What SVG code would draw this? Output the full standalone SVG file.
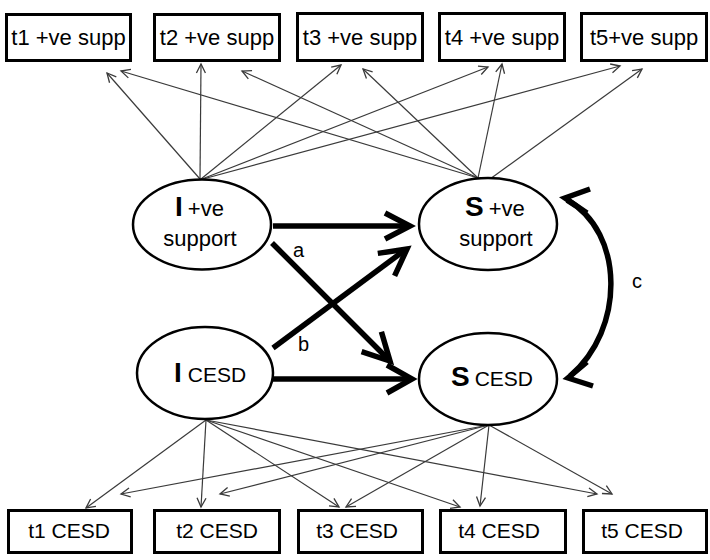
<svg xmlns="http://www.w3.org/2000/svg" width="710" height="560" viewBox="0 0 710 560">
<style>
.box{fill:#fff;stroke:#000;stroke-width:3}
.ell{fill:#fff;stroke:#000;stroke-width:2.5}
.bt{font-family:"Liberation Sans",Arial,sans-serif;font-size:22px;fill:#000;text-anchor:middle}
.bb{font-family:"Liberation Sans",Arial,sans-serif;font-size:21px;fill:#000;text-anchor:middle}
.big{font-family:"Liberation Sans",Arial,sans-serif;font-size:28px;font-weight:bold;fill:#000}
.sm{font-family:"Liberation Sans",Arial,sans-serif;font-size:22px;fill:#000}
.cs{font-family:"Liberation Sans",Arial,sans-serif;font-size:21px;fill:#000}
.lab{font-family:"Liberation Sans",Arial,sans-serif;font-size:20px;fill:#000}
.thin{stroke:#3a3a3a;stroke-width:1.2;fill:none;marker-end:url(#ah)}
.thick{stroke:#000;stroke-width:5.5;fill:none;stroke-linejoin:miter}
</style>
<defs>
<marker id="ah" markerUnits="userSpaceOnUse" markerWidth="14" markerHeight="12" viewBox="-11 -6 13 12" refX="0" refY="0" orient="auto">
<path d="M-9,-4.5 L0,0 L-9,4.5" fill="none" stroke="#3a3a3a" stroke-width="1.3"/>
</marker>
</defs>
<rect width="710" height="560" fill="#fff"/>
<g id="connectors">
<path class="thin" d="M200,179 L107,73"/>
<path class="thin" d="M200,179 L201,64"/>
<path class="thin" d="M201,179 L341,65"/>
<path class="thin" d="M202,179 L488,67"/>
<path class="thin" d="M203,179 L620,66"/>
<path class="thin" d="M478,178 L121,71"/>
<path class="thin" d="M478,178 L242,71"/>
<path class="thin" d="M478,178 L363,69"/>
<path class="thin" d="M478,178 L502,64"/>
<path class="thin" d="M490,179 L642,69"/>
<path class="thin" d="M206,420 L86,508"/>
<path class="thin" d="M206,420 L201,507"/>
<path class="thin" d="M206,420 L339,507"/>
<path class="thin" d="M206,420 L460,507"/>
<path class="thin" d="M206,420 L597,494"/>
<path class="thin" d="M489,425 L121,494"/>
<path class="thin" d="M489,425 L220,494"/>
<path class="thin" d="M489,425 L346,507"/>
<path class="thin" d="M489,425 L480,506"/>
<path class="thin" d="M489,425 L612,494"/>
<path class="thick" d="M273,226 L407,226"/>
<path class="thick" d="M385,213 L410,226 L385,239"/>
<path class="thick" d="M273,379 L409,379"/>
<path class="thick" d="M387,365 L412,379 L387,393"/>
<path class="thick" d="M272,243 L388,359"/>
<path class="thick" d="M361.6,351.6 L390,361 L381.4,331.8"/>
<path class="thick" d="M273,348 L405,250"/>
<path class="thick" d="M394.6,275.8 L407,249 L377.8,253.4"/>
<path class="thick" d="M567,200 C625,232 625,330 570,376"/>
<path class="thick" d="M590,189 L565,198 L587,213"/>
<path class="thick" d="M587,362 L568,378 L593,386"/>
</g>
<text class="lab" x="293" y="257">a</text>
<text class="lab" x="298" y="351">b</text>
<text class="lab" x="632" y="288">c</text>
<g id="t1sup"><rect class="box" x="6.5" y="14.5" width="124" height="46"/><text class="bt" x="68.5" y="45">t1 +ve supp</text></g>
<g id="t2sup"><rect class="box" x="154.5" y="14.5" width="125" height="46"/><text class="bt" x="217" y="45">t2 +ve supp</text></g>
<g id="t3sup"><rect class="box" x="297.5" y="13.5" width="125" height="47"/><text class="bt" x="360" y="45">t3 +ve supp</text></g>
<g id="t4sup"><rect class="box" x="439.5" y="13.5" width="125" height="47"/><text class="bt" x="502" y="45">t4 +ve supp</text></g>
<g id="t5sup"><rect class="box" x="581.5" y="13.5" width="125" height="47"/><text class="bt" x="644" y="45">t5+ve supp</text></g>
<g id="t1cesd"><rect class="box" x="8.5" y="510.5" width="123" height="42"/><text class="bb" x="69" y="538">t1 CESD</text></g>
<g id="t2cesd"><rect class="box" x="154.5" y="510.5" width="125" height="42"/><text class="bb" x="217" y="538">t2 CESD</text></g>
<g id="t3cesd"><rect class="box" x="298.5" y="510.5" width="124" height="42"/><text class="bb" x="357" y="538">t3 CESD</text></g>
<g id="t4cesd"><rect class="box" x="440.5" y="510.5" width="125" height="42"/><text class="bb" x="499" y="538">t4 CESD</text></g>
<g id="t5cesd"><rect class="box" x="583.5" y="510.5" width="123" height="42"/><text class="bb" x="642" y="538">t5 CESD</text></g>
<g id="Isup"><ellipse class="ell" cx="202" cy="224.5" rx="69" ry="45"/><text x="175" y="216"><tspan class="big">I</tspan><tspan class="sm" dx="5">+ve</tspan></text><text class="sm" x="200" y="246" text-anchor="middle">support</text></g>
<g id="Ssup"><ellipse class="ell" cx="488" cy="224" rx="69" ry="46"/><text x="465" y="216"><tspan class="big">S</tspan><tspan class="sm" dx="5">+ve</tspan></text><text class="sm" x="496" y="246" text-anchor="middle">support</text></g>
<g id="Icesd"><ellipse class="ell" cx="205" cy="373" rx="68" ry="46"/><text x="174" y="382"><tspan class="big">I</tspan><tspan class="cs" dx="6">CESD</tspan></text></g>
<g id="Scesd"><ellipse class="ell" cx="488" cy="379" rx="69" ry="46"/><text x="451" y="386"><tspan class="big">S</tspan><tspan class="cs" dx="5">CESD</tspan></text></g>
</svg>
